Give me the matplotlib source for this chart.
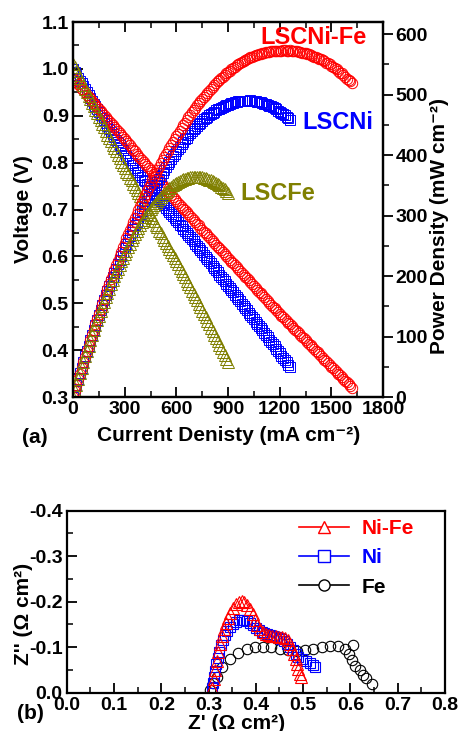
import numpy as np
import matplotlib
matplotlib.use("Agg")
import matplotlib.pyplot as plt
from matplotlib.lines import Line2D
from matplotlib.ticker import MultipleLocator, FormatStrFormatter

plt.rcParams['font.family'] = ['Liberation Sans', 'DejaVu Sans']
plt.rcParams['font.weight'] = 'bold'
plt.rcParams['axes.labelweight'] = 'bold'
plt.rcParams['axes.unicode_minus'] = False

# ---------------- Data: panel (a) I-V curves (current sampled every 10 mA cm-2) ----------------
cur_nife = np.arange(0, 1621, 10)
v_nife = [0.980, 0.976, 0.971, 0.967, 0.963, 0.958, 0.954, 0.950, 0.945, 0.941, 0.937, 0.932,
          0.928, 0.924, 0.919, 0.915, 0.911, 0.906, 0.902, 0.898, 0.893, 0.889, 0.885, 0.880,
          0.876, 0.872, 0.867, 0.863, 0.859, 0.854, 0.850,
          0.846, 0.841, 0.837, 0.832, 0.828, 0.824, 0.819, 0.815, 0.810, 0.806, 0.802, 0.797,
          0.793, 0.788, 0.784, 0.780, 0.775, 0.771, 0.766, 0.762, 0.758, 0.753, 0.749, 0.744,
          0.740, 0.736, 0.731, 0.727, 0.722, 0.718,
          0.714, 0.710, 0.706, 0.702, 0.698, 0.694, 0.690, 0.686, 0.682, 0.678, 0.674, 0.670,
          0.666, 0.661, 0.657, 0.653, 0.649, 0.645, 0.641, 0.637, 0.633, 0.629, 0.625, 0.621,
          0.617, 0.613, 0.609, 0.605, 0.601, 0.597,
          0.593, 0.589, 0.585, 0.581, 0.577, 0.573, 0.569, 0.565, 0.561, 0.557, 0.553, 0.549,
          0.545, 0.541, 0.537, 0.533, 0.529, 0.525, 0.521, 0.517, 0.513, 0.509, 0.505, 0.501,
          0.497, 0.493, 0.489, 0.485, 0.481, 0.477,
          0.473, 0.470, 0.466, 0.462, 0.458, 0.455, 0.451, 0.447, 0.443, 0.440, 0.436, 0.432,
          0.428, 0.425, 0.421, 0.417, 0.414, 0.410, 0.406, 0.402, 0.399, 0.395, 0.391, 0.388,
          0.384, 0.380, 0.376, 0.373, 0.369, 0.365,
          0.361, 0.358, 0.354, 0.350, 0.346, 0.343, 0.339, 0.335, 0.331, 0.328, 0.324, 0.320]

cur_ni = np.arange(0, 1261, 10)
v_ni = [1.000, 0.994, 0.988, 0.981, 0.975, 0.969, 0.963, 0.957, 0.950, 0.944, 0.938,
        0.932, 0.926, 0.920, 0.914, 0.908, 0.902, 0.896, 0.890, 0.884, 0.878,
        0.872, 0.866, 0.861, 0.855, 0.849, 0.843, 0.837, 0.832, 0.826, 0.820,
        0.815, 0.810, 0.805, 0.800, 0.795, 0.789, 0.784, 0.779, 0.774, 0.769,
        0.764, 0.760, 0.755, 0.750, 0.746, 0.741, 0.736, 0.731, 0.727, 0.722,
        0.718, 0.713, 0.709, 0.704, 0.700, 0.695, 0.691, 0.686, 0.682, 0.677,
        0.673, 0.668, 0.664, 0.659, 0.655, 0.650, 0.646, 0.641, 0.637, 0.632,
        0.627, 0.623, 0.618, 0.613, 0.609, 0.604, 0.599, 0.594, 0.590, 0.585,
        0.580, 0.575, 0.571, 0.566, 0.561, 0.556, 0.551, 0.547, 0.542, 0.537,
        0.532, 0.528, 0.523, 0.518, 0.514, 0.509, 0.504, 0.499, 0.495, 0.490,
        0.485, 0.480, 0.476, 0.471, 0.466, 0.461, 0.456, 0.452, 0.447, 0.442,
        0.437, 0.432, 0.427, 0.422, 0.418, 0.413, 0.408, 0.403, 0.398, 0.393,
        0.388, 0.383, 0.379, 0.374, 0.369, 0.364]

cur_fe = np.arange(0, 901, 10)
v_fe = [1.010, 1.003, 0.995, 0.988, 0.980, 0.973, 0.965, 0.958, 0.950, 0.943, 0.935,
        0.928, 0.920, 0.913, 0.905, 0.898, 0.890, 0.883, 0.875, 0.868, 0.860,
        0.853, 0.846, 0.838, 0.831, 0.824, 0.817, 0.810, 0.802, 0.795, 0.788,
        0.781, 0.775, 0.768, 0.762, 0.755, 0.748, 0.742, 0.735, 0.729, 0.722,
        0.715, 0.709, 0.702, 0.695, 0.689, 0.682, 0.675, 0.668, 0.662, 0.655,
        0.649, 0.642, 0.636, 0.629, 0.623, 0.616, 0.610, 0.603, 0.597, 0.590,
        0.583, 0.576, 0.569, 0.562, 0.555, 0.548, 0.541, 0.534, 0.527, 0.520,
        0.513, 0.506, 0.498, 0.491, 0.484, 0.477, 0.470, 0.462, 0.455, 0.448,
        0.441, 0.433, 0.426, 0.419, 0.412, 0.404, 0.397, 0.390, 0.382, 0.375]

# power density = current density x voltage (mW cm-2)
p_nife = cur_nife * np.array(v_nife)
p_ni = cur_ni * np.array(v_ni)
p_fe = cur_fe * np.array(v_fe)

# ---------------- Data: panel (b) impedance spectra ----------------
zre_nife = [0.307, 0.311, 0.314, 0.317, 0.320, 0.324, 0.328, 0.332, 0.336, 0.341, 0.346, 0.352,
            0.358, 0.364, 0.370, 0.376, 0.382, 0.388, 0.393, 0.398, 0.403, 0.409, 0.415, 0.421,
            0.428, 0.435, 0.442, 0.449, 0.456, 0.462, 0.467, 0.472, 0.476, 0.480, 0.484, 0.487,
            0.490, 0.493, 0.496]
zim_nife = [-0.010, -0.030, -0.050, -0.070, -0.090, -0.108, -0.125, -0.140, -0.153, -0.165,
            -0.176, -0.186, -0.194, -0.199, -0.201, -0.199, -0.193, -0.184, -0.172, -0.160,
            -0.149, -0.140, -0.133, -0.129, -0.126, -0.125, -0.124, -0.123, -0.122, -0.120,
            -0.115, -0.107, -0.097, -0.086, -0.074, -0.062, -0.051, -0.042, -0.035]

zre_ni = [0.307, 0.309, 0.311, 0.313, 0.316, 0.319, 0.322, 0.326, 0.330, 0.335, 0.340, 0.346,
          0.352, 0.358, 0.364, 0.370, 0.376, 0.382, 0.388, 0.394, 0.400, 0.406, 0.412, 0.418,
          0.424, 0.430, 0.436, 0.442, 0.448, 0.454, 0.460, 0.466, 0.472, 0.478, 0.484, 0.490,
          0.498, 0.506, 0.514, 0.520, 0.525]
zim_ni = [-0.010, -0.022, -0.035, -0.048, -0.062, -0.076, -0.090, -0.104, -0.116, -0.127,
          -0.136, -0.144, -0.151, -0.156, -0.159, -0.160, -0.159, -0.157, -0.153, -0.148,
          -0.143, -0.138, -0.134, -0.131, -0.128, -0.126, -0.124, -0.122, -0.120, -0.117,
          -0.113, -0.108, -0.101, -0.093, -0.085, -0.078, -0.073, -0.069, -0.065, -0.061, -0.057]

zre_fe = [0.303, 0.310, 0.317, 0.328, 0.345, 0.363, 0.381, 0.398, 0.416, 0.433, 0.451, 0.469,
          0.486, 0.504, 0.521, 0.539, 0.557, 0.574, 0.588, 0.606, 0.598, 0.604, 0.610, 0.620,
          0.627, 0.634, 0.645]
zim_fe = [-0.006, -0.022, -0.035, -0.057, -0.073, -0.087, -0.095, -0.100, -0.101, -0.100,
          -0.096, -0.094, -0.092, -0.093, -0.096, -0.100, -0.102, -0.102, -0.096, -0.104,
          -0.085, -0.072, -0.058, -0.050, -0.039, -0.032, -0.019]

RED = '#ff0000'
BLUE = '#0000ff'
OLIVE = '#808000'

fig = plt.figure(figsize=(4.58, 7.31), dpi=100)

# ---------------- Panel (a) ----------------
ax = fig.add_axes([0.1594, 0.4569, 0.6769, 0.5130])
ax2 = ax.twinx()

mk = dict(linestyle='none', mfc='none')
ax.plot(cur_ni, v_ni, marker='s', ms=7.5, mec=BLUE, mew=0.7, **mk)
ax.plot(cur_nife, v_nife, marker='o', ms=7.5, mec=RED, mew=0.7, **mk)
ax.plot(cur_fe, v_fe, marker='^', ms=9, mec=OLIVE, mew=0.7, **mk)

ax2.plot(cur_ni, p_ni, marker='s', ms=7.5, mec=BLUE, mew=0.7, **mk)
ax2.plot(cur_nife, p_nife, marker='o', ms=7.5, mec=RED, mew=0.7, **mk)
ax2.plot(cur_fe, p_fe, marker='^', ms=9, mec=OLIVE, mew=0.7, **mk)

ax.set_xlim(0, 1800)
ax.set_ylim(0.3, 1.1)
ax2.set_ylim(0, 620)

ax.xaxis.set_major_locator(MultipleLocator(300))
ax.xaxis.set_minor_locator(MultipleLocator(150))
ax.yaxis.set_major_locator(MultipleLocator(0.1))
ax.yaxis.set_minor_locator(MultipleLocator(0.05))
ax.yaxis.set_major_formatter(FormatStrFormatter('%.1f'))
ax2.yaxis.set_major_locator(MultipleLocator(100))
ax2.yaxis.set_minor_locator(MultipleLocator(50))

ax.tick_params(axis='both', which='major', direction='in', length=7, width=1.3,
               labelsize=14, top=True, right=False, pad=3)
ax.tick_params(axis='both', which='minor', direction='in', length=4, width=1.1,
               top=True, right=False)
ax2.tick_params(axis='y', which='major', direction='out', length=7, width=1.3, labelsize=14, pad=2)
ax2.tick_params(axis='y', which='minor', direction='out', length=4, width=1.1)
for a in (ax, ax2):
    for s in a.spines.values():
        s.set_linewidth(1.6)
    for lab in a.get_xticklabels() + a.get_yticklabels():
        lab.set_fontweight('bold')

ax.set_xlabel('Current Denisty (mA cm\u207b\u00b2)', fontsize=15, fontweight='bold')
ax.set_ylabel('Voltage (V)', fontsize=15, fontweight='bold')
ax2.set_ylabel('Power Density (mW cm\u207b\u00b2)', fontsize=15, fontweight='bold')
ax.xaxis.set_label_coords(0.503, -0.078)
ax.yaxis.set_label_coords(-0.13, 0.5)
ax2.yaxis.set_label_coords(1.15, 0.456)

ax.text(0.603, 0.96, 'LSCNi-Fe', transform=ax.transAxes, color=RED, fontsize=17,
        fontweight='bold', ha='left', va='center')
ax.text(0.739, 0.731, 'LSCNi', transform=ax.transAxes, color=BLUE, fontsize=17,
        fontweight='bold', ha='left', va='center')
ax.text(0.539, 0.544, 'LSCFe', transform=ax.transAxes, color=OLIVE, fontsize=17,
        fontweight='bold', ha='left', va='center')

fig.text(0.048, 0.402, '(a)', fontsize=15, fontweight='bold', ha='left', va='center')

# ---------------- Panel (b) ----------------
bx = fig.add_axes([0.1456, 0.0524, 0.826, 0.249])
bx.plot(zre_fe, zim_fe, marker='o', ms=7.5, mec='black', mew=0.8, **mk)
bx.plot(zre_ni, zim_ni, marker='s', ms=7, mec=BLUE, mew=0.8, **mk)
bx.plot(zre_nife, zim_nife, marker='^', ms=8, mec=RED, mew=0.8, **mk)

bx.set_xlim(0, 0.8)
bx.set_ylim(0, -0.4)
bx.xaxis.set_major_locator(MultipleLocator(0.1))
bx.xaxis.set_minor_locator(MultipleLocator(0.05))
bx.yaxis.set_major_locator(MultipleLocator(0.1))
bx.yaxis.set_minor_locator(MultipleLocator(0.05))
bx.xaxis.set_major_formatter(FormatStrFormatter('%.1f'))
bx.yaxis.set_major_formatter(FormatStrFormatter('%.1f'))
bx.tick_params(axis='both', which='major', direction='in', length=7, width=1.3,
               labelsize=14, pad=3)
bx.tick_params(axis='both', which='minor', direction='in', length=4, width=1.1)
for s in bx.spines.values():
    s.set_linewidth(1.6)
for lab in bx.get_xticklabels() + bx.get_yticklabels():
    lab.set_fontweight('bold')

bx.set_xlabel("Z' (\u03a9 cm\u00b2)", fontsize=15, fontweight='bold')
bx.set_ylabel("Z'' (\u03a9 cm\u00b2)", fontsize=15, fontweight='bold')
bx.xaxis.set_label_coords(0.449, -0.118)
bx.yaxis.set_label_coords(-0.09, 0.432)

handles = [
    Line2D([], [], color=RED, lw=1.2, marker='^', ms=9, mfc='white', mec=RED, mew=1.0),
    Line2D([], [], color=BLUE, lw=1.2, marker='s', ms=8, mfc='white', mec=BLUE, mew=1.0),
    Line2D([], [], color='black', lw=1.2, marker='o', ms=8, mfc='white', mec='black', mew=1.0),
]
leg = bx.legend(handles, ['Ni-Fe', 'Ni', 'Fe'], loc='upper left', bbox_to_anchor=(0.615, 0.955),
                frameon=False, numpoints=1, handlelength=2.4, handletextpad=0.6,
                labelspacing=0.5, borderpad=0, borderaxespad=0,
                prop={'weight': 'bold', 'size': 15})
for t, c in zip(leg.get_texts(), [RED, BLUE, 'black']):
    t.set_color(c)

fig.text(0.037, 0.0246, '(b)', fontsize=15, fontweight='bold', ha='left', va='center')

fig.savefig('out.png', dpi=100)
